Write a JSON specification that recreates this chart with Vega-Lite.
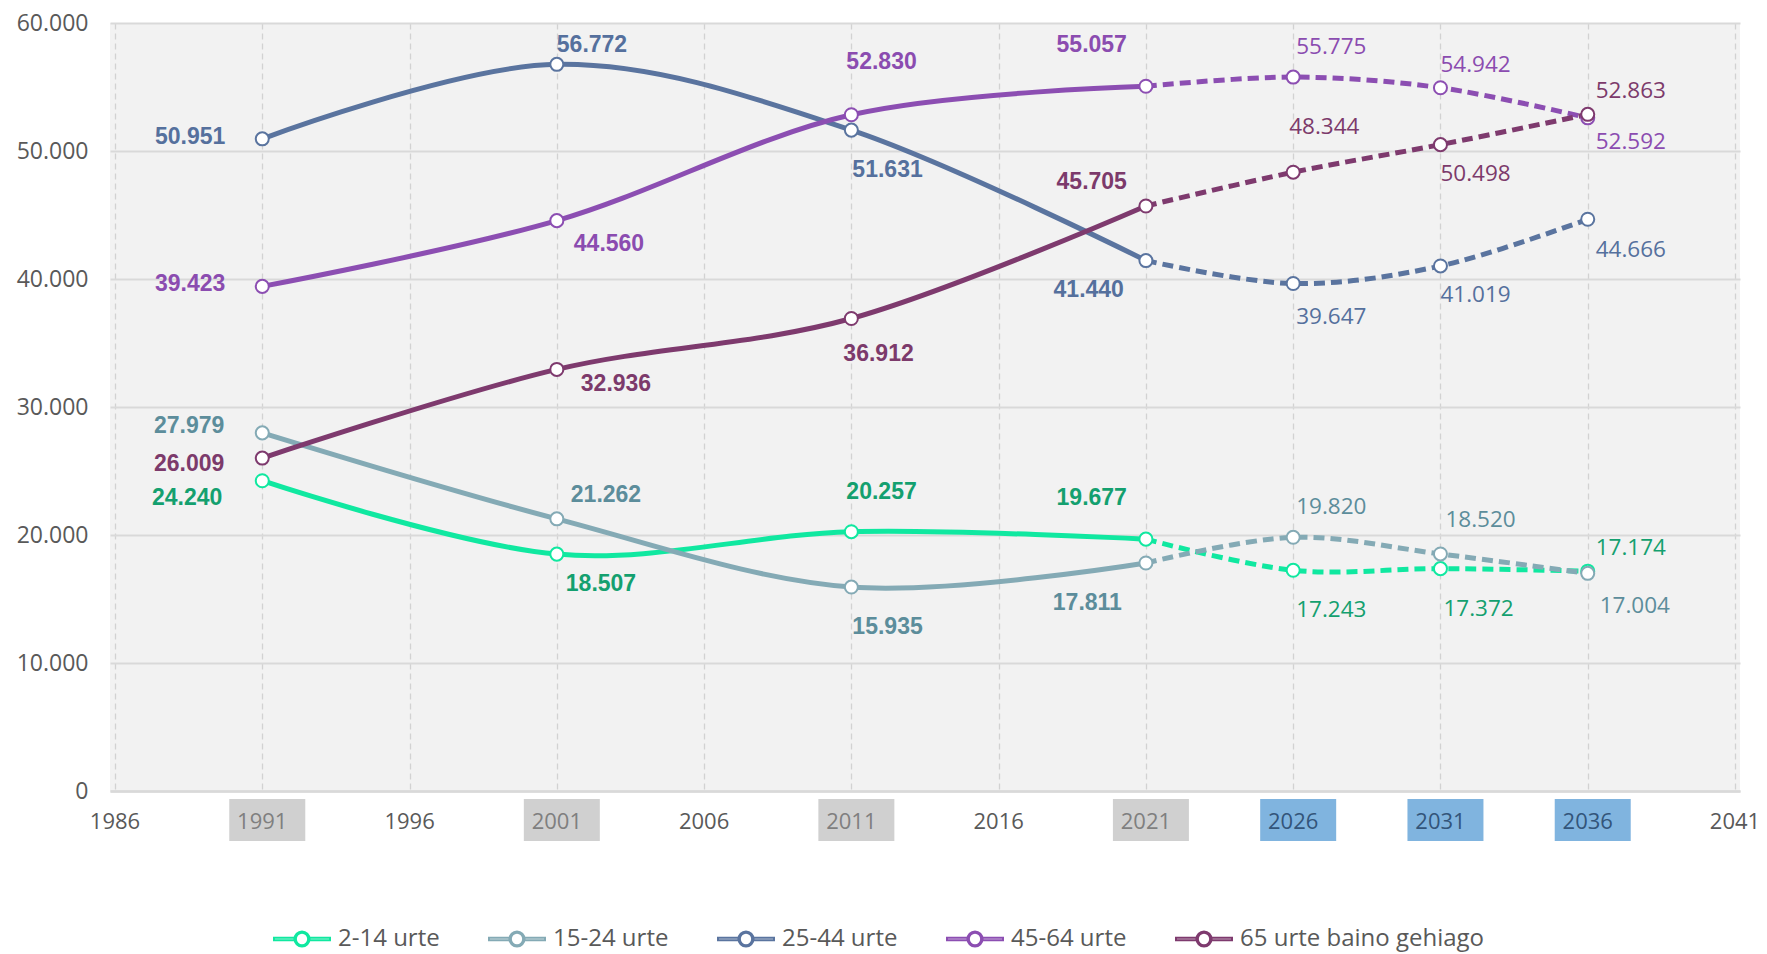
{
  "$schema": "https://vega.github.io/schema/vega-lite/v6.json",
  "width": 1630,
  "height": 768,
  "autosize": {"type": "none"},
  "padding": {"left": 110, "top": 23, "right": 27, "bottom": 163},
  "background": "#FFFFFF",
  "config": {
    "locale": {"number": {"decimal": ",", "thousands": ".", "grouping": [3], "currency": ["", " €"]}},
    "view": {"fill": "#F2F2F2", "stroke": null}
  },
  "datasets": {
    "pop": [
      {"group": "2-14 urte", "year": 1991, "value": 24240},
      {"group": "2-14 urte", "year": 2001, "value": 18507},
      {"group": "2-14 urte", "year": 2011, "value": 20257},
      {"group": "2-14 urte", "year": 2021, "value": 19677},
      {"group": "2-14 urte", "year": 2026, "value": 17243},
      {"group": "2-14 urte", "year": 2031, "value": 17372},
      {"group": "2-14 urte", "year": 2036, "value": 17174},
      {"group": "15-24 urte", "year": 1991, "value": 27979},
      {"group": "15-24 urte", "year": 2001, "value": 21262},
      {"group": "15-24 urte", "year": 2011, "value": 15935},
      {"group": "15-24 urte", "year": 2021, "value": 17811},
      {"group": "15-24 urte", "year": 2026, "value": 19820},
      {"group": "15-24 urte", "year": 2031, "value": 18520},
      {"group": "15-24 urte", "year": 2036, "value": 17004},
      {"group": "25-44 urte", "year": 1991, "value": 50951},
      {"group": "25-44 urte", "year": 2001, "value": 56772},
      {"group": "25-44 urte", "year": 2011, "value": 51631},
      {"group": "25-44 urte", "year": 2021, "value": 41440},
      {"group": "25-44 urte", "year": 2026, "value": 39647},
      {"group": "25-44 urte", "year": 2031, "value": 41019},
      {"group": "25-44 urte", "year": 2036, "value": 44666},
      {"group": "45-64 urte", "year": 1991, "value": 39423},
      {"group": "45-64 urte", "year": 2001, "value": 44560},
      {"group": "45-64 urte", "year": 2011, "value": 52830},
      {"group": "45-64 urte", "year": 2021, "value": 55057},
      {"group": "45-64 urte", "year": 2026, "value": 55775},
      {"group": "45-64 urte", "year": 2031, "value": 54942},
      {"group": "45-64 urte", "year": 2036, "value": 52592},
      {"group": "65 urte baino gehiago", "year": 1991, "value": 26009},
      {"group": "65 urte baino gehiago", "year": 2001, "value": 32936},
      {"group": "65 urte baino gehiago", "year": 2011, "value": 36912},
      {"group": "65 urte baino gehiago", "year": 2021, "value": 45705},
      {"group": "65 urte baino gehiago", "year": 2026, "value": 48344},
      {"group": "65 urte baino gehiago", "year": 2031, "value": 50498},
      {"group": "65 urte baino gehiago", "year": 2036, "value": 52863}
    ],
    "ticks": [
      {"year": 1986, "kind": "plain"},
      {"year": 1991, "kind": "census"},
      {"year": 1996, "kind": "plain"},
      {"year": 2001, "kind": "census"},
      {"year": 2006, "kind": "plain"},
      {"year": 2011, "kind": "census"},
      {"year": 2016, "kind": "plain"},
      {"year": 2021, "kind": "census"},
      {"year": 2026, "kind": "projection"},
      {"year": 2031, "kind": "projection"},
      {"year": 2036, "kind": "projection"},
      {"year": 2041, "kind": "plain"}
    ]
  },
  "data": {"name": "pop"},
  "encoding": {
    "x": {
      "field": "year", "type": "quantitative",
      "scale": {"domain": [1986, 2041], "nice": false, "zero": false},
      "axis": {
        "values": [1986, 1991, 1996, 2001, 2006, 2011, 2016, 2021, 2026, 2031, 2036, 2041],
        "labels": false, "ticks": false, "title": null,
        "domain": true, "domainColor": "#D9D9D9", "domainWidth": 2.5,
        "grid": true, "gridColor": "#D2D2D2", "gridDash": [6, 4], "gridWidth": 1.3
      }
    }
  },
  "layer": [
    {
      "data": {"name": "ticks"},
      "transform": [{"filter": "datum.kind != 'plain'"}],
      "mark": {"type": "bar", "width": 76, "xOffset": 5},
      "encoding": {
        "y": {"datum": -625, "type": "quantitative"},
        "y2": {"datum": -3906},
        "color": {"condition": {"test": "datum.kind == 'projection'", "value": "#80B4DF"}, "value": "#D0D0D0"}
      }
    },
    {
      "data": {"name": "ticks"},
      "mark": {"type": "text", "font": "Open Sans", "fontSize": 22, "baseline": "middle", "align": "center"},
      "encoding": {
        "y": {"datum": -2420, "type": "quantitative"},
        "text": {"field": "year", "type": "quantitative", "format": "d"},
        "color": {"condition": [
          {"test": "datum.kind == 'projection'", "value": "#33557A"},
          {"test": "datum.kind == 'census'", "value": "#7F7F7F"}
        ], "value": "#595959"}
      }
    },
    {
      "encoding": {
        "y": {
          "field": "value", "type": "quantitative",
          "scale": {"domain": [0, 60000], "nice": false, "zero": false},
          "axis": {
            "values": [0, 10000, 20000, 30000, 40000, 50000, 60000],
            "format": ",.0f", "title": null,
            "labelFont": "Open Sans", "labelFontSize": 23, "labelColor": "#595959", "labelPadding": 22,
            "ticks": false, "domain": false,
            "grid": true, "gridColor": "#D9D9D9", "gridWidth": 2
          }
        }
      },
      "layer": [
        {
          "transform": [{"filter": "datum.year <= 2021"}],
          "mark": {"type": "line", "interpolate": "cardinal", "strokeWidth": 5, "strokeCap": "round"},
          "encoding": {
            "color": {
              "field": "group", "type": "nominal",
              "scale": {"domain": ["2-14 urte", "15-24 urte", "25-44 urte", "45-64 urte", "65 urte baino gehiago"], "range": ["#10E8A0", "#84AAB5", "#5A749F", "#8C4EB2", "#7E3A6E"]},
              "legend": {
                "orient": "none", "legendX": 163, "legendY": 887, "direction": "horizontal", "title": null,
                "labelFont": "Open Sans", "labelFontSize": 24, "labelColor": "#595959", "labelLimit": 400,
                "columnPadding": 45, "labelOffset": 7,
                "symbolType": "M-1,-0.045H-0.27V0.045H-1Z M0.27,-0.045H1V0.045H0.27Z M-0.27,0A0.27,0.27 0 1,1 0.27,0A0.27,0.27 0 1,1 -0.27,0Z M-0.22,0A0.22,0.22 0 1,0 0.22,0A0.22,0.22 0 1,0 -0.22,0Z",
                "symbolSize": 3136, "symbolStrokeWidth": 2, "symbolFillColor": "#FFFFFF", "symbolOpacity": 1
              }
            }
          }
        },
        {
          "transform": [{"filter": "datum.year >= 2021"}],
          "mark": {"type": "line", "interpolate": "cardinal", "strokeWidth": 5, "strokeDash": [11, 6]},
          "encoding": {"color": {"field": "group", "type": "nominal"}}
        },
        {
          "mark": {"type": "point", "shape": "circle", "filled": false, "fill": "#FFFFFF", "size": 170, "strokeWidth": 2, "opacity": 1},
          "encoding": {"color": {"field": "group", "type": "nominal"}}
        },
        {
          "encoding": {
            "text": {"field": "value", "type": "quantitative", "format": ",.0f"},
            "color": {"condition": [
              {"test": "datum.group == '2-14 urte'", "value": "#14A06F"},
              {"test": "datum.group == '15-24 urte'", "value": "#5C8D9B"},
              {"test": "datum.group == '25-44 urte'", "value": "#55709D"},
              {"test": "datum.group == '45-64 urte'", "value": "#8B4CB0"}
            ], "value": "#7C3A6B"}
          },
          "layer": [
            {
              "transform": [{"filter": "indexof(['25-44 urte@1991','45-64 urte@1991'], datum.group + '@' + datum.year) >= 0"}],
              "mark": {"type": "text", "font": "Liberation Sans", "fontSize": 23, "fontWeight": "bold", "baseline": "middle", "align": "right", "dx": -37, "dy": -2}
            },
            {
              "transform": [{"filter": "indexof(['65 urte baino gehiago@1991'], datum.group + '@' + datum.year) >= 0"}],
              "mark": {"type": "text", "font": "Liberation Sans", "fontSize": 23, "fontWeight": "bold", "baseline": "middle", "align": "right", "dx": -38, "dy": 6}
            },
            {
              "transform": [{"filter": "indexof(['15-24 urte@1991'], datum.group + '@' + datum.year) >= 0"}],
              "mark": {"type": "text", "font": "Liberation Sans", "fontSize": 23, "fontWeight": "bold", "baseline": "middle", "align": "right", "dx": -38, "dy": -7}
            },
            {
              "transform": [{"filter": "indexof(['2-14 urte@1991'], datum.group + '@' + datum.year) >= 0"}],
              "mark": {"type": "text", "font": "Liberation Sans", "fontSize": 23, "fontWeight": "bold", "baseline": "middle", "align": "right", "dx": -40, "dy": 17}
            },
            {
              "transform": [{"filter": "indexof(['25-44 urte@2001'], datum.group + '@' + datum.year) >= 0"}],
              "mark": {"type": "text", "font": "Liberation Sans", "fontSize": 23, "fontWeight": "bold", "baseline": "middle", "align": "left", "dx": 0, "dy": -19}
            },
            {
              "transform": [{"filter": "indexof(['45-64 urte@2001'], datum.group + '@' + datum.year) >= 0"}],
              "mark": {"type": "text", "font": "Liberation Sans", "fontSize": 23, "fontWeight": "bold", "baseline": "middle", "align": "left", "dx": 17, "dy": 23}
            },
            {
              "transform": [{"filter": "indexof(['65 urte baino gehiago@2001'], datum.group + '@' + datum.year) >= 0"}],
              "mark": {"type": "text", "font": "Liberation Sans", "fontSize": 23, "fontWeight": "bold", "baseline": "middle", "align": "left", "dx": 24, "dy": 15}
            },
            {
              "transform": [{"filter": "indexof(['2-14 urte@2001'], datum.group + '@' + datum.year) >= 0"}],
              "mark": {"type": "text", "font": "Liberation Sans", "fontSize": 23, "fontWeight": "bold", "baseline": "middle", "align": "left", "dx": 9, "dy": 30}
            },
            {
              "transform": [{"filter": "indexof(['15-24 urte@2001'], datum.group + '@' + datum.year) >= 0"}],
              "mark": {"type": "text", "font": "Liberation Sans", "fontSize": 23, "fontWeight": "bold", "baseline": "middle", "align": "left", "dx": 14, "dy": -24}
            },
            {
              "transform": [{"filter": "indexof(['25-44 urte@2011','15-24 urte@2011'], datum.group + '@' + datum.year) >= 0"}],
              "mark": {"type": "text", "font": "Liberation Sans", "fontSize": 23, "fontWeight": "bold", "baseline": "middle", "align": "left", "dx": 1, "dy": 40}
            },
            {
              "transform": [{"filter": "indexof(['45-64 urte@2011'], datum.group + '@' + datum.year) >= 0"}],
              "mark": {"type": "text", "font": "Liberation Sans", "fontSize": 23, "fontWeight": "bold", "baseline": "middle", "align": "left", "dx": -5, "dy": -53}
            },
            {
              "transform": [{"filter": "indexof(['65 urte baino gehiago@2011'], datum.group + '@' + datum.year) >= 0"}],
              "mark": {"type": "text", "font": "Liberation Sans", "fontSize": 23, "fontWeight": "bold", "baseline": "middle", "align": "left", "dx": -8, "dy": 35}
            },
            {
              "transform": [{"filter": "indexof(['2-14 urte@2011'], datum.group + '@' + datum.year) >= 0"}],
              "mark": {"type": "text", "font": "Liberation Sans", "fontSize": 23, "fontWeight": "bold", "baseline": "middle", "align": "left", "dx": -5, "dy": -40}
            },
            {
              "transform": [{"filter": "indexof(['25-44 urte@2021'], datum.group + '@' + datum.year) >= 0"}],
              "mark": {"type": "text", "font": "Liberation Sans", "fontSize": 23, "fontWeight": "bold", "baseline": "middle", "align": "right", "dx": -22, "dy": 29}
            },
            {
              "transform": [{"filter": "indexof(['45-64 urte@2021','2-14 urte@2021'], datum.group + '@' + datum.year) >= 0"}],
              "mark": {"type": "text", "font": "Liberation Sans", "fontSize": 23, "fontWeight": "bold", "baseline": "middle", "align": "right", "dx": -19, "dy": -41}
            },
            {
              "transform": [{"filter": "indexof(['65 urte baino gehiago@2021'], datum.group + '@' + datum.year) >= 0"}],
              "mark": {"type": "text", "font": "Liberation Sans", "fontSize": 23, "fontWeight": "bold", "baseline": "middle", "align": "right", "dx": -19, "dy": -24}
            },
            {
              "transform": [{"filter": "indexof(['15-24 urte@2021'], datum.group + '@' + datum.year) >= 0"}],
              "mark": {"type": "text", "font": "Liberation Sans", "fontSize": 23, "fontWeight": "bold", "baseline": "middle", "align": "right", "dx": -24, "dy": 40}
            },
            {
              "transform": [{"filter": "indexof(['25-44 urte@2026'], datum.group + '@' + datum.year) >= 0"}],
              "mark": {"type": "text", "font": "Open Sans", "fontSize": 22.5, "baseline": "middle", "align": "left", "dx": 3, "dy": 33}
            },
            {
              "transform": [{"filter": "indexof(['45-64 urte@2026','15-24 urte@2026'], datum.group + '@' + datum.year) >= 0"}],
              "mark": {"type": "text", "font": "Open Sans", "fontSize": 22.5, "baseline": "middle", "align": "left", "dx": 3, "dy": -30}
            },
            {
              "transform": [{"filter": "indexof(['65 urte baino gehiago@2026'], datum.group + '@' + datum.year) >= 0"}],
              "mark": {"type": "text", "font": "Open Sans", "fontSize": 22.5, "baseline": "middle", "align": "left", "dx": -4, "dy": -45}
            },
            {
              "transform": [{"filter": "indexof(['2-14 urte@2026','2-14 urte@2031'], datum.group + '@' + datum.year) >= 0"}],
              "mark": {"type": "text", "font": "Open Sans", "fontSize": 22.5, "baseline": "middle", "align": "left", "dx": 3, "dy": 40}
            },
            {
              "transform": [{"filter": "indexof(['25-44 urte@2031','65 urte baino gehiago@2031'], datum.group + '@' + datum.year) >= 0"}],
              "mark": {"type": "text", "font": "Open Sans", "fontSize": 22.5, "baseline": "middle", "align": "left", "dx": 0, "dy": 29}
            },
            {
              "transform": [{"filter": "indexof(['45-64 urte@2031'], datum.group + '@' + datum.year) >= 0"}],
              "mark": {"type": "text", "font": "Open Sans", "fontSize": 22.5, "baseline": "middle", "align": "left", "dx": 0, "dy": -23}
            },
            {
              "transform": [{"filter": "indexof(['15-24 urte@2031'], datum.group + '@' + datum.year) >= 0"}],
              "mark": {"type": "text", "font": "Open Sans", "fontSize": 22.5, "baseline": "middle", "align": "left", "dx": 5, "dy": -34}
            },
            {
              "transform": [{"filter": "indexof(['25-44 urte@2036'], datum.group + '@' + datum.year) >= 0"}],
              "mark": {"type": "text", "font": "Open Sans", "fontSize": 22.5, "baseline": "middle", "align": "left", "dx": 8, "dy": 31}
            },
            {
              "transform": [{"filter": "indexof(['45-64 urte@2036'], datum.group + '@' + datum.year) >= 0"}],
              "mark": {"type": "text", "font": "Open Sans", "fontSize": 22.5, "baseline": "middle", "align": "left", "dx": 8, "dy": 24}
            },
            {
              "transform": [{"filter": "indexof(['65 urte baino gehiago@2036','2-14 urte@2036'], datum.group + '@' + datum.year) >= 0"}],
              "mark": {"type": "text", "font": "Open Sans", "fontSize": 22.5, "baseline": "middle", "align": "left", "dx": 8, "dy": -23}
            },
            {
              "transform": [{"filter": "indexof(['15-24 urte@2036'], datum.group + '@' + datum.year) >= 0"}],
              "mark": {"type": "text", "font": "Open Sans", "fontSize": 22.5, "baseline": "middle", "align": "left", "dx": 12, "dy": 33}
            }
          ]
        }
      ]
    }
  ]
}
